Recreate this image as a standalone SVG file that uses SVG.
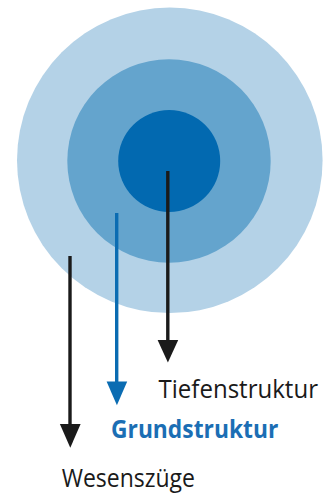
<svg xmlns="http://www.w3.org/2000/svg" width="336" height="493" viewBox="0 0 336 493">
<style>
.lbl{font-family:"Open Sans","Noto Sans","Liberation Sans",sans-serif;font-size:25.5px;fill:#1a1a1a}
.bold{font-weight:bold;fill:#1b6eb4}
.ln{stroke-width:3.4;fill:none}
</style>
<rect width="336" height="493" fill="#ffffff"/>
<g id="outer"><circle cx="169.8" cy="160.3" r="152.8" fill="#b4d2e7"/></g>
<g id="middle"><circle cx="169" cy="161" r="101.7" fill="#64a4cd"/></g>
<g id="inner"><circle cx="169.2" cy="161" r="51" fill="#0269b0"/></g>
<g id="connectors">
<line class="ln" x1="167.8" y1="171" x2="167.8" y2="345" stroke="#1a1a1a"/>
<polygon points="157.6,340 178.2,340 167.9,362.5" fill="#1a1a1a"/>
<line class="ln" x1="116.7" y1="213" x2="116.7" y2="386" stroke="#0b6cb2"/>
<polygon points="106.6,381.5 127.2,381.5 116.9,405.2" fill="#0b6cb2"/>
<line class="ln" x1="70" y1="256" x2="70" y2="428" stroke="#1a1a1a"/>
<polygon points="59.9,424 80.6,424 70.3,447.8" fill="#1a1a1a"/>
</g>
<g id="label-tiefen"><text class="lbl" x="158.5" y="397.7" textLength="159.5" lengthAdjust="spacingAndGlyphs">Tiefenstruktur</text></g>
<g id="label-grund"><text class="lbl bold" x="111" y="438.3" textLength="167.3" lengthAdjust="spacingAndGlyphs">Grundstruktur</text></g>
<g id="label-wesen"><text class="lbl" x="61.7" y="486.7" textLength="133.3" lengthAdjust="spacingAndGlyphs">Wesenszüge</text></g>
</svg>
